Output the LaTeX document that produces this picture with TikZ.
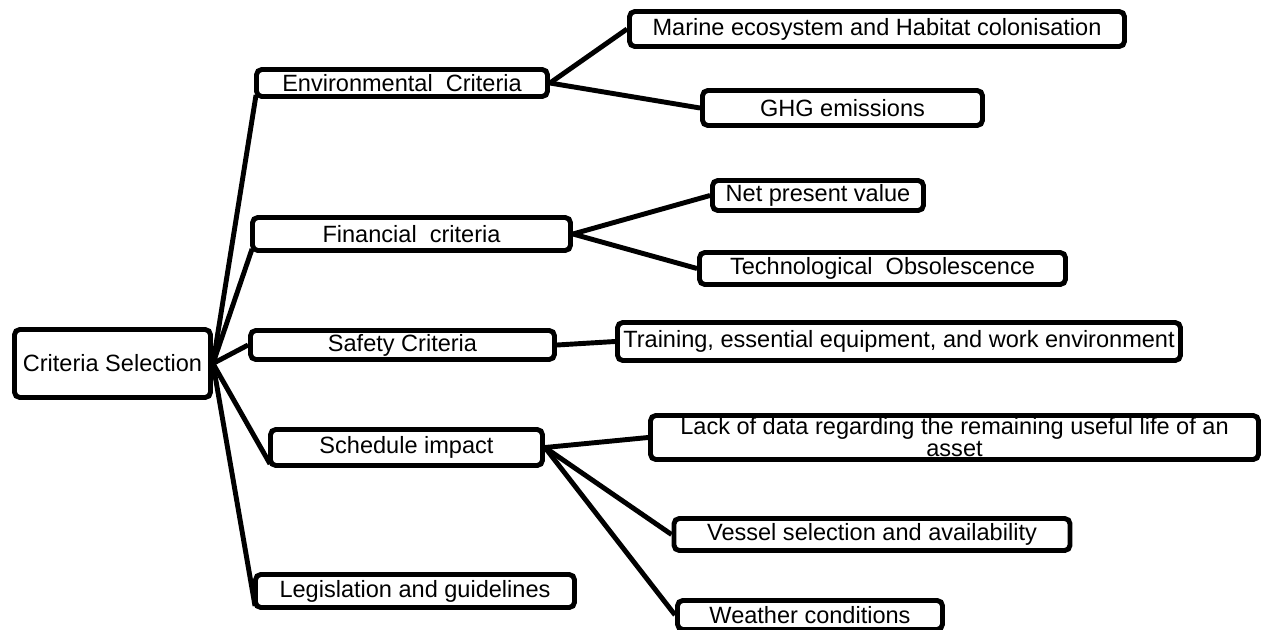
\documentclass[tikz,border=0pt]{standalone}
\usepackage{fontspec}
\setmainfont{Liberation Sans}
\usetikzlibrary{positioning}

\begin{document}
\begin{tikzpicture}[x=0.02cm,y=-0.02cm,
    box/.style={draw,fill=white,line width=2.8pt,rounded corners=3pt,inner sep=0pt,
      align=center,font=\fontsize{13.4}{12.5}\selectfont},
    link/.style={line width=2.8pt},
    cornerin/.style={shift={(2,-4)}}]
  \useasboundingbox (0,0) rectangle (1274,629);
  \foreach \nm/\cx/\cy/\w/\h/\txt in
    {root/112.5/363.5/201/73/{Criteria Selection},
     env/402/83/296/32/{Environmental~~Criteria},
     marine/877/29/500/40/{Marine ecosystem and Habitat colonisation},
     ghg/842.5/108/285/40/{GHG emissions},
     npv/818/195.5/216/35/{Net present value},
     fin/411.5/234/323/38/{Financial~~criteria},
     tech/882.5/268.5/371/37/{Technological~~Obsolescence},
     safety/402.5/345/309/34/{Safety Criteria},
     train/899/341.5/568/43/{Training, essential equipment, and work environment},
     sched/406.5/447.5/277/41/{Schedule impact},
     lack/954.5/437.5/613/49/{Lack of data regarding the remaining useful life of an\\asset},
     vessel/872/534.5/401/37/{Vessel selection and availability},
     weather/810/615/270/34/{Weather conditions},
     legis/415/591/324/38/{Legislation and guidelines}} {
    \node[box,minimum width=(\w-5)*0.02cm,minimum height=(\h-5)*0.02cm] (\nm) at (\cx,\cy) {\txt};
  }
  \draw[link] (root.east) -- ([cornerin]env.south west);
  \draw[link] (root.east) -- ([cornerin]fin.south west);
  \draw[link] (root.east) -- (safety.west);
  \draw[link] (root.east) -- ([cornerin]sched.south west);
  \draw[link] (root.east) -- ([cornerin]legis.south west);
  \draw[link] (env.east) -- (marine.west);
  \draw[link] (env.east) -- (ghg.west);
  \draw[link] (fin.east) -- (npv.west);
  \draw[link] (fin.east) -- (tech.west);
  \draw[link] (safety.east) -- (train.west);
  \draw[link] (sched.east) -- (lack.west);
  \draw[link] (sched.east) -- (vessel.west);
  \draw[link] (sched.east) -- (weather.west);
\end{tikzpicture}
\end{document}
